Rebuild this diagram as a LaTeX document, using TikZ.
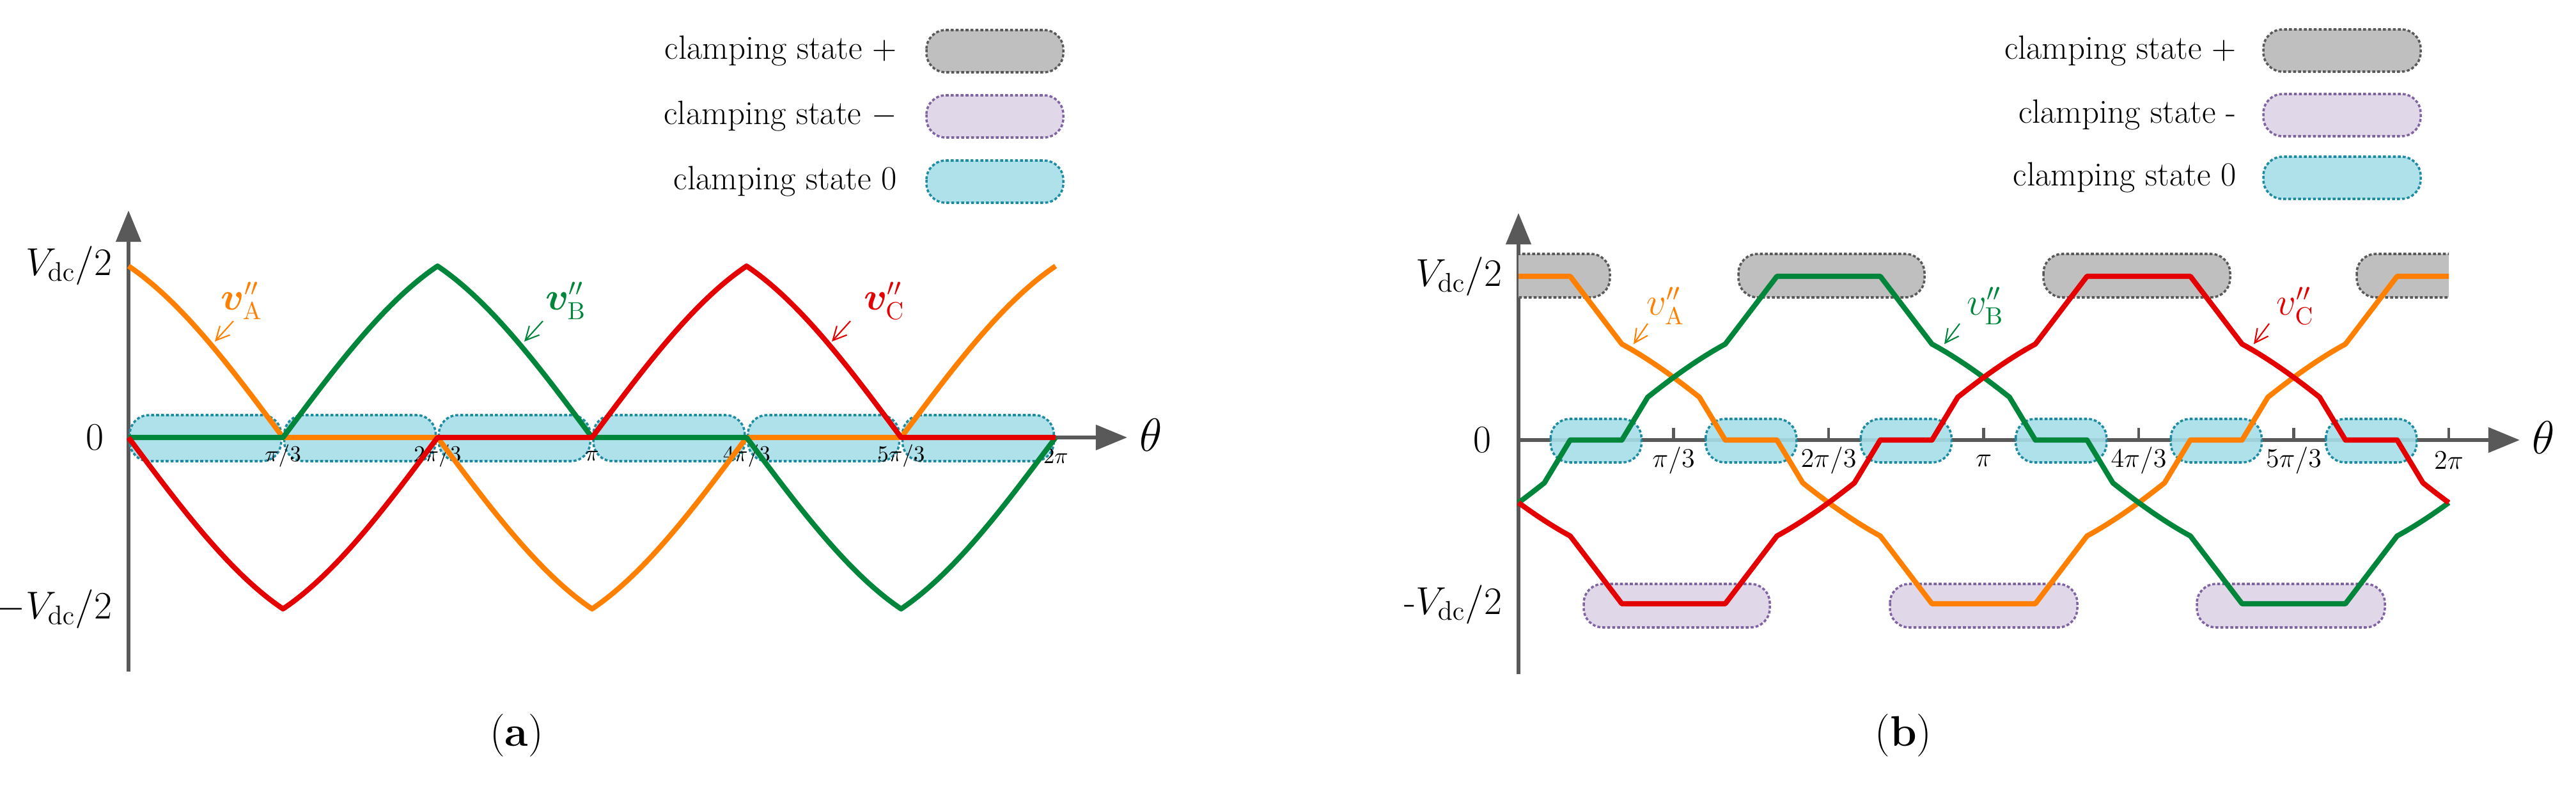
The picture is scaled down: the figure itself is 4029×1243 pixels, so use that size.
\documentclass[tikz,border=0pt]{standalone}
\usepackage{amsmath,bm}
\usetikzlibrary{arrows.meta}
\definecolor{cA}{RGB}{255,127,0}
\definecolor{cB}{RGB}{0,134,58}
\definecolor{cC}{RGB}{228,0,0}
\definecolor{axc}{RGB}{89,89,89}
\definecolor{gfill}{RGB}{191,191,191}
\definecolor{gline}{RGB}{89,89,89}
\definecolor{pfill}{RGB}{224,215,232}
\definecolor{pline}{RGB}{128,100,162}
\definecolor{zfill}{RGB}{165,222,232}
\definecolor{zline}{RGB}{31,139,160}
\begin{document}
\begin{tikzpicture}[x={(0.01cm,0)},y={(0,-0.01cm)},
  declare function={
    g(\p)=(\p<20)?1:((\p<40)?(1-0.0207*(\p-20)):((\p<70)?(0.765*cos(\p)):((\p<80)?(0.02617*(80-\p)):0)));
    gh(\r)=(\r<=90)?g(\r):(-g(180-\r));
    gr(\q)=(\q<=180)?gh(\q):gh(360-\q);
    fb(\t)=gr(mod(\t+720,360));
    h(\p)=(\p<60)?(sin(60-\p)/0.8660):((\p<120)?0:(-sin(\p-120)/0.8660));
    hr(\q)=(\q<=180)?h(\q):h(360-\q);
    fa(\t)=hr(mod(\t+720,360));
  },
  wave/.style={line width=2.3pt,line join=round},
  ax/.style={draw=axc,line width=1.7pt,-{Triangle[length=14pt,width=11pt]}},
  box/.style={line width=1pt,dash pattern=on 1.3pt off 0.9pt,rounded corners=0.3cm},
  gbox/.style={box,draw=gline,fill=gfill},
  pbox/.style={box,draw=pline,fill=pfill},
  zbox/.style={box,draw=zline,fill=zfill,fill opacity=0.9},
  leg/.style={font=\fontsize{15}{18}\selectfont,anchor=east},
  lbl/.style={font=\fontsize{17}{20}\selectfont,anchor=east},
  tka/.style={font=\fontsize{10}{12}\selectfont},
  tkb/.style={font=\fontsize{13}{15}\selectfont},
  ptr/.style={line width=0.6pt,-{Straight Barb[length=6pt,width=6pt]}},
  capt/.style={font=\fontsize{19}{22}\selectfont}]
\useasboundingbox (0,0) rectangle (4029,1243);

% ================= (a) =================
\draw[ax] (201,1050) -- (201,329);
\draw[ax] (201,684) -- (1763,684);
\node[font=\fontsize{21}{24}\selectfont] (tha) at (1800,680) {$\theta$};
\foreach \k in {0,...,5}
  \draw[zbox] ({203+241.7*\k},649) rectangle ({201+241.7*(\k+1)-3},721);
\foreach \k/\t in {1/{\pi/3},2/{2\pi/3},3/{\pi},4/{4\pi/3},5/{5\pi/3},6/{2\pi}}
  \node[tka] (ta\k) at ({201+241.7*\k},713) {$\t$};
\draw[wave,cA] plot[domain=0:360,samples=361] ({201+4.0278*\x},{684-268*fa(\x)});
\draw[wave,cB] plot[domain=0:360,samples=361] ({201+4.0278*\x},{684-268*fa(\x-120)});
\draw[wave,cC] plot[domain=0:360,samples=361] ({201+4.0278*\x},{684-268*fa(\x-240)});
\node[lbl] (ya1) at (188,415) {$V_{\mathrm{dc}}/2$};
\node[lbl] (ya0) at (175,684) {$0$};
\node[lbl] (ya2) at (188,952) {$-V_{\mathrm{dc}}/2$};
\node[font=\fontsize{16}{18}\selectfont,cA] (la) at (378,470) {$\bm{v}''_{\mathrm{A}}$};
\node[font=\fontsize{16}{18}\selectfont,cB] (lb) at (885,470) {$\bm{v}''_{\mathrm{B}}$};
\node[font=\fontsize{16}{18}\selectfont,cC] (lc) at (1383,470) {$\bm{v}''_{\mathrm{C}}$};
\coordinate (pa) at (336,534); \coordinate (pb) at (820,534); \coordinate (pc) at (1301,534);
\draw[ptr,cA] (365,502) -- (pa);
\draw[ptr,cB] (849,502) -- (pb);
\draw[ptr,cC] (1330,502) -- (pc);
% legend (a)
\node[leg] (a1) at (1415,80) {clamping state +};
\node[leg] (a2) at (1415,182) {clamping state $-$};
\node[leg] (a3) at (1415,284) {clamping state 0};
\draw[gbox] (1449,47) rectangle (1663,113);
\draw[pbox] (1449,149) rectangle (1663,215);
\draw[zbox] (1449,251) rectangle (1663,317);
\node[capt] (capa) at (808,1150) {(\textbf{a})};

% ================= (b) =================
\draw[ax] (2375,1054) -- (2375,333);
\draw[ax] (2375,688) -- (3941,688);
\node[font=\fontsize{21}{24}\selectfont] (thb) at (3978,684) {$\theta$};
\foreach \k in {1,...,6}
  \draw[axc,line width=1.2pt] ({2375+242.5*\k},688) -- ({2375+242.5*\k},669);
% clamping boxes
\begin{scope}
  \clip (2375,300) rectangle (3830,1100);
  \draw[gbox] (2300,397) rectangle (2518,465);
  \draw[gbox] (3686,397) rectangle (3900,465);
\end{scope}
\draw[gbox] (2719,397) rectangle (3010,465);
\draw[gbox] (3196,397) rectangle (3488,465);
\draw[pbox] (2477,913) rectangle (2768,981);
\draw[pbox] (2956,913) rectangle (3249,981);
\draw[pbox] (3436,913) rectangle (3730,981);
\foreach \c in {30,90,150,210,270,330}
  \draw[zbox] ({2375+4.0417*\c-71},655) rectangle ({2375+4.0417*\c+71},723);
\foreach \k/\t in {1/{\pi/3},2/{2\pi/3},3/{\pi},4/{4\pi/3},5/{5\pi/3},6/{2\pi}}
  \node[tkb] (tb\k) at ({2375+242.5*\k},720) {$\t$};
\draw[wave,cA] plot[domain=0:360,samples=361] ({2375+4.0417*\x},{688-256*fb(\x)});
\draw[wave,cB] plot[domain=0:360,samples=361] ({2375+4.0417*\x},{688-256*fb(\x-120)});
\draw[wave,cC] plot[domain=0:360,samples=361] ({2375+4.0417*\x},{688-256*fb(\x-240)});
\node[lbl] (yb1) at (2362,432) {$V_{\mathrm{dc}}/2$};
\node[lbl] (yb0) at (2345,688) {$0$};
\node[lbl] (yb2) at (2362,945) {-$V_{\mathrm{dc}}/2$};
\node[font=\fontsize{16}{18}\selectfont,cA] (lba) at (2605,478) {$v''_{\mathrm{A}}$};
\node[font=\fontsize{16}{18}\selectfont,cB] (lbb) at (3105,478) {$v''_{\mathrm{B}}$};
\node[font=\fontsize{16}{18}\selectfont,cC] (lbc) at (3590,478) {$v''_{\mathrm{C}}$};
\coordinate (qa) at (2555,538); \coordinate (qb) at (3041,538); \coordinate (qc) at (3525,538);
\draw[ptr,cA] (2577,506) -- (qa);
\draw[ptr,cB] (3065,506) -- (qb);
\draw[ptr,cC] (3549,506) -- (qc);
% legend (b)
\node[leg] (b1) at (3510,80) {clamping state +};
\node[leg] (b2) at (3510,180) {clamping state -};
\node[leg] (b3) at (3510,278) {clamping state 0};
\draw[gbox] (3540,46) rectangle (3786,112);
\draw[pbox] (3540,147) rectangle (3786,213);
\draw[zbox] (3540,245) rectangle (3786,311);
\node[capt] (capb) at (2977,1150) {(\textbf{b})};
\end{tikzpicture}
\end{document}
